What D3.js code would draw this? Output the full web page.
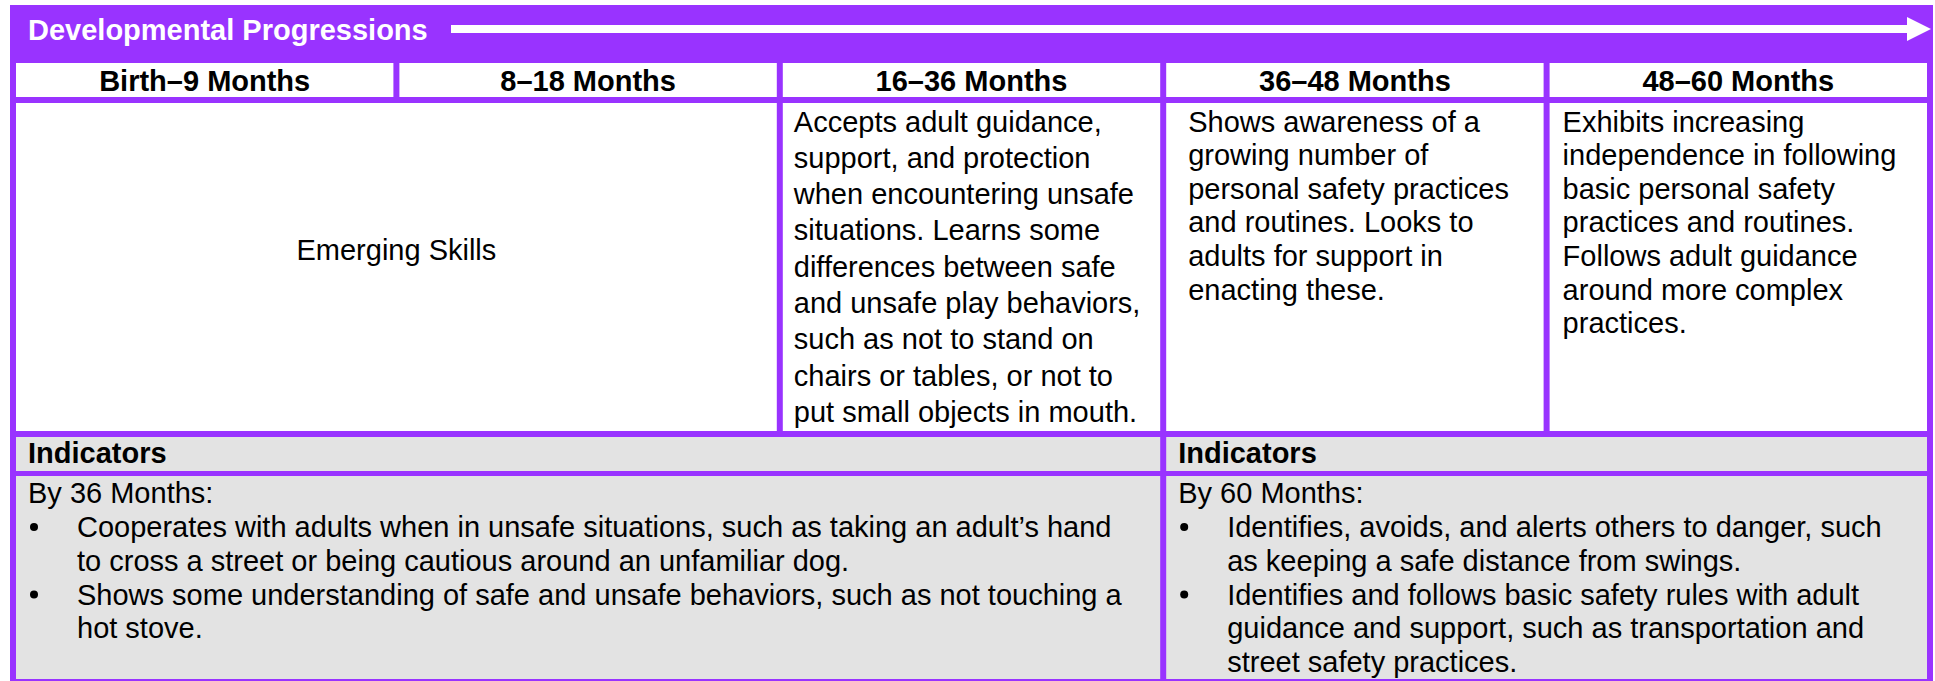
<!DOCTYPE html>
<html>
<head>
<meta charset="utf-8">
<script src="https://cdn.jsdelivr.net/npm/d3@7"></script>
<style>
  html, body { margin: 0; padding: 0; background: #ffffff; }
  svg { display: block; }
  text { font-family: "Liberation Sans", Arial, Helvetica, sans-serif; }
</style>
</head>
<body>
<script>
// ---- data ----
const title = "Developmental Progressions";
const ageRanges = ["Birth\u20139 Months", "8\u201318 Months", "16\u201336 Months", "36\u201348 Months", "48\u201360 Months"];
const emergingLabel = "Emerging Skills";
const desc16to36 = [
  "Accepts adult guidance,",
  "support, and protection",
  "when encountering unsafe",
  "situations. Learns some",
  "differences between safe",
  "and unsafe play behaviors,",
  "such as not to stand on",
  "chairs or tables, or not to",
  "put small objects in mouth."
];
const desc36to48 = [
  "Shows awareness of a",
  "growing number of",
  "personal safety practices",
  "and routines. Looks to",
  "adults for support in",
  "enacting these."
];
const desc48to60 = [
  "Exhibits increasing",
  "independence in following",
  "basic personal safety",
  "practices and routines.",
  "Follows adult guidance",
  "around more complex",
  "practices."
];
const indicatorHeads = ["Indicators", "Indicators"];
const indicatorIntro = ["By 36 Months:", "By 60 Months:"];
const indicators36 = [
  ["Cooperates with adults when in unsafe situations, such as taking an adult\u2019s hand",
   "to cross a street or being cautious around an unfamiliar dog."],
  ["Shows some understanding of safe and unsafe behaviors, such as not touching a",
   "hot stove."]
];
const indicators60 = [
  ["Identifies, avoids, and alerts others to danger, such",
   "as keeping a safe distance from swings."],
  ["Identifies and follows basic safety rules with adult",
   "guidance and support, such as transportation and",
   "street safety practices."]
];

// ---- layout ----
const W = 1935, H = 681;
const purple = "#9933ff", gray = "#e3e3e3";
const fs = 29;

const svg = d3.select("body").append("svg").attr("width", W).attr("height", H);

// column border centres
const col = d3.scaleLinear().domain([0, 5]).range([13, 1930]);
const half = 3;

// purple frame background
svg.append("rect").attr("x", 10).attr("y", 5).attr("width", 1923).attr("height", H - 5).attr("fill", purple);

// title
svg.append("text").attr("x", 28).attr("y", 40).attr("fill", "#fff")
  .attr("font-size", fs).attr("font-weight", "bold").text(title);

// arrow
const arrowY = 29;
svg.append("rect").attr("x", 451).attr("y", arrowY - 4).attr("width", 1908 - 451).attr("height", 8).attr("fill", "#fff");
svg.append("path").attr("d", d3.line()([[1907, 17], [1931, arrowY], [1907, 41]]) + "Z").attr("fill", "#fff");

// header row
const hdr = {y0: 63, y1: 97};
ageRanges.forEach((a, i) => {
  const x0 = col(i) + half, x1 = col(i + 1) - half;
  svg.append("rect").attr("x", x0).attr("y", hdr.y0).attr("width", x1 - x0).attr("height", hdr.y1 - hdr.y0).attr("fill", "#fff");
  svg.append("text").attr("x", (x0 + x1) / 2).attr("y", 91).attr("text-anchor", "middle")
    .attr("font-size", fs).attr("font-weight", "bold").attr("fill", "#000").text(a);
});

// content row
const cr = {y0: 103, y1: 431};
const contentCells = [
  {c0: 0, c1: 2, lines: null},
  {c0: 2, c1: 3, lines: desc16to36, pad: 11, lh: 36.3},
  {c0: 3, c1: 4, lines: desc36to48, pad: 22, lh: 33.6},
  {c0: 4, c1: 5, lines: desc48to60, pad: 13, lh: 33.6}
];
contentCells.forEach(c => {
  const x0 = col(c.c0) + half, x1 = col(c.c1) - half;
  svg.append("rect").attr("x", x0).attr("y", cr.y0).attr("width", x1 - x0).attr("height", cr.y1 - cr.y0).attr("fill", "#fff");
  if (!c.lines) {
    svg.append("text").attr("x", (x0 + x1) / 2).attr("y", 260).attr("text-anchor", "middle")
      .attr("font-size", fs).attr("fill", "#000").text(emergingLabel);
  } else {
    const t = svg.append("text").attr("font-size", fs).attr("fill", "#000");
    c.lines.forEach((ln, k) => {
      t.append("tspan").attr("x", x0 + c.pad).attr("y", 131.5 + k * c.lh).text(ln);
    });
  }
});

// indicators rows
const sections = [
  {c0: 0, c1: 3, items: indicators36},
  {c0: 3, c1: 5, items: indicators60}
];
sections.forEach((s, si) => {
  const x0 = col(s.c0) + half, x1 = col(s.c1) - half;
  svg.append("rect").attr("x", x0).attr("y", 437).attr("width", x1 - x0).attr("height", 471 - 437).attr("fill", gray);
  svg.append("rect").attr("x", x0).attr("y", 476).attr("width", x1 - x0).attr("height", 679 - 476).attr("fill", gray);
  const tx = x0 + 12;
  svg.append("text").attr("x", tx).attr("y", 463).attr("font-size", fs).attr("font-weight", "bold")
    .attr("fill", "#000").text(indicatorHeads[si]);
  svg.append("text").attr("x", tx).attr("y", 503).attr("font-size", fs).attr("fill", "#000").text(indicatorIntro[si]);
  let lineIdx = 0;
  const lh = 33.8;
  s.items.forEach(item => {
    const yb = 537 + lineIdx * lh;
    svg.append("circle").attr("cx", tx + 6).attr("cy", yb - 10).attr("r", 4).attr("fill", "#000");
    const t = svg.append("text").attr("font-size", fs).attr("fill", "#000");
    item.forEach((ln, k) => {
      t.append("tspan").attr("x", tx + 49).attr("y", 537 + (lineIdx + k) * lh).text(ln);
    });
    lineIdx += item.length;
  });
});
</script>
</body>
</html>
